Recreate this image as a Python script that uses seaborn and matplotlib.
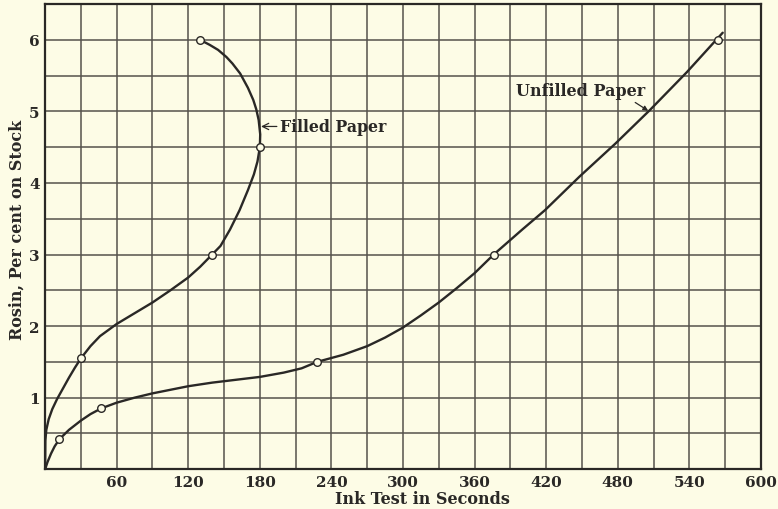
import matplotlib
matplotlib.use("Agg")
import matplotlib.pyplot as plt
import seaborn as sns
import pandas as pd

# Filled paper: measured points and traced curve (seconds, per cent rosin)
filled_x = [30, 140, 180, 130]
filled_y = [1.55, 3.0, 4.5, 6.0]
filled_curve_x = [0, 0.2, 1, 3, 6, 10, 15, 20, 25, 30, 38, 46, 60, 75, 90, 105, 120, 130, 140,
                  147, 155, 163, 170, 175, 178, 180, 180.3, 179, 177, 174.5, 170, 163.5, 157, 152,
                  145, 138, 130]
filled_curve_y = [0, 0.4, 0.55, 0.7, 0.84, 0.98, 1.13, 1.28, 1.42, 1.55, 1.72, 1.86, 2.03, 2.18,
                  2.33, 2.5, 2.68, 2.83, 3.0, 3.12, 3.35, 3.62, 3.9, 4.12, 4.3, 4.5, 4.68, 4.88,
                  5.03, 5.16, 5.33, 5.53, 5.67, 5.76, 5.86, 5.93, 6.0]

# Unfilled paper: measured points and traced curve
unfilled_x = [12, 47, 228, 376, 564]
unfilled_y = [0.42, 0.85, 1.5, 3.0, 6.0]
unfilled_curve_x = [0, 2, 5, 8, 12, 20, 30, 38, 47, 60, 75, 90, 105, 120, 140, 160, 180, 200, 215,
                    228, 250, 270, 285, 300, 315, 330, 345, 360, 376, 400, 419, 448, 478, 507, 538,
                    568]
unfilled_curve_y = [0, 0.1, 0.22, 0.32, 0.42, 0.55, 0.68, 0.77, 0.85, 0.93, 1.0, 1.06, 1.11, 1.16,
                    1.21, 1.25, 1.29, 1.35, 1.41, 1.5, 1.6, 1.72, 1.84, 1.98, 2.15, 2.33, 2.53,
                    2.74, 3.0, 3.35, 3.62, 4.09, 4.55, 5.02, 5.55, 6.1]

x_ticks = [60, 120, 180, 240, 300, 360, 420, 480, 540, 600]
y_ticks = [1, 2, 3, 4, 5, 6]

paper = "#fdfce6"
ink = "#2a2826"
grid_col = "#55524c"

sns.set_style("white")
plt.rcParams["font.family"] = ["DejaVu Serif"]

fig = plt.figure(figsize=(7.78, 5.10), dpi=100, facecolor=paper)
ax = fig.add_axes([0.058, 0.078, 0.92, 0.912])
ax.set_facecolor(paper)

# graph paper grid
for gx in range(30, 600, 30):
    ax.axvline(gx, color=grid_col, lw=1.1, zorder=0)
for gy in [i * 0.5 for i in range(1, 13)]:
    ax.axhline(gy, color=grid_col, lw=1.1, zorder=0)

filled_df = pd.DataFrame({"x": filled_curve_x, "y": filled_curve_y})
unfilled_df = pd.DataFrame({"x": unfilled_curve_x, "y": unfilled_curve_y})
for df in (filled_df, unfilled_df):
    sns.lineplot(data=df, x="x", y="y", sort=False, estimator=None, color=ink, lw=1.7, ax=ax,
                 zorder=2, solid_joinstyle="round", solid_capstyle="round")

sns.scatterplot(x=filled_x, y=filled_y, ax=ax, s=30, marker="o", facecolor=paper,
                edgecolor=ink, linewidth=1.0, zorder=3)
sns.scatterplot(x=unfilled_x, y=unfilled_y, ax=ax, s=30, marker="o", facecolor=paper,
                edgecolor=ink, linewidth=1.0, zorder=3)

ax.annotate("Filled Paper", xy=(181, 4.79), xytext=(197, 4.79), fontsize=11.3, fontweight="bold",
            color=ink, va="center", ha="left",
            arrowprops=dict(arrowstyle="->", color=ink, lw=0.9, shrinkA=0, shrinkB=0))
ax.annotate("Unfilled Paper", xy=(505.5, 5.01), xytext=(395, 5.29), fontsize=11.5, fontweight="bold",
            color=ink, va="center", ha="left",
            arrowprops=dict(arrowstyle="-|>", color=ink, lw=0.9, shrinkA=0, shrinkB=0,
                            mutation_scale=7, relpos=(0.88, 0.0)))

ax.set_xlim(0, 600)
ax.set_ylim(0, 6.5)
ax.set_xticks(x_ticks)
ax.set_yticks(y_ticks)
ax.set_xticklabels([str(t) for t in x_ticks], fontsize=11, fontweight="bold", color=ink)
ax.set_yticklabels([str(t) for t in y_ticks], fontsize=11, fontweight="bold", color=ink)
ax.tick_params(length=0, pad=4)
ax.set_xlabel("")
ax.set_ylabel("")
for s in ax.spines.values():
    s.set_color(ink)
    s.set_linewidth(1.6)

fig.text(0.543, 0.02, "Ink Test in Seconds", ha="center", va="center", fontsize=11.5,
         fontweight="bold", color=ink)
fig.text(0.022, 0.55, "Rosin, Per cent on Stock", ha="center", va="center", fontsize=11.5,
         fontweight="bold", color=ink, rotation=90)

fig.savefig("out.png", dpi=100, facecolor=paper)
